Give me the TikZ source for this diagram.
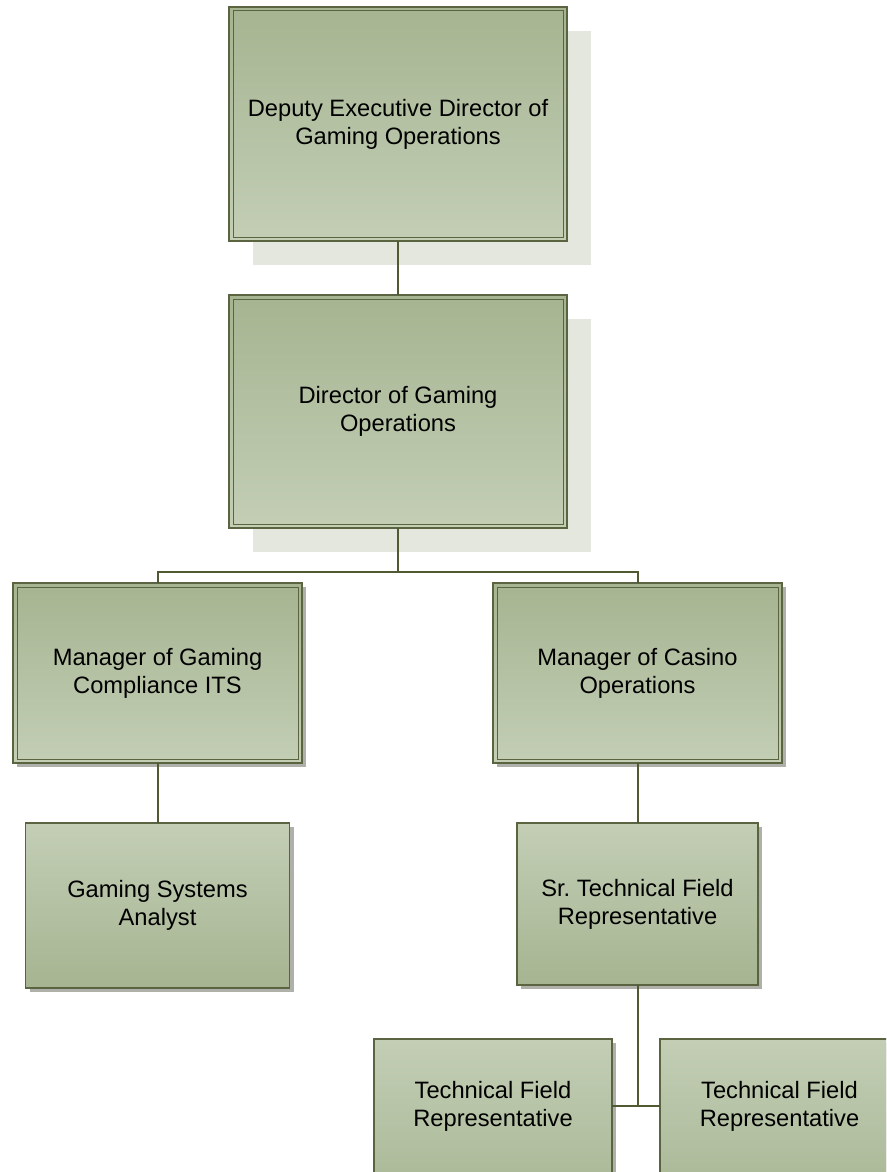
\documentclass[tikz,border=0pt]{standalone}
\usepackage{fontspec}
\setmainfont{Liberation Sans}
\frenchspacing
\usetikzlibrary{shadows}
\definecolor{gdark}{HTML}{A6B491}
\definecolor{glight}{HTML}{C3CEB5}
\definecolor{bordc}{HTML}{5A6440}
\definecolor{connc}{HTML}{4F5A32}
\definecolor{bigshadow}{HTML}{E4E7DE}
\definecolor{smallshadow}{HTML}{9A9C94}
\tikzset{
  boxbase/.style={draw=bordc, line width=1.3pt, inner sep=0pt, outer sep=0pt,
    align=center, font=\fontsize{23.7}{28}\selectfont, text=black},
  dblbox/.style={boxbase, top color=gdark, bottom color=glight,
    path picture={\draw[bordc, line width=1pt]
      ([shift={(4pt,4pt)}]path picture bounding box.south west) rectangle
      ([shift={(-4pt,-4pt)}]path picture bounding box.north east);}},
  bigbox/.style={dblbox, drop shadow={shadow xshift=24pt, shadow yshift=-24pt, fill=bigshadow, opacity=1}},
  midbox/.style={dblbox, drop shadow={shadow xshift=4pt, shadow yshift=-4pt, fill=smallshadow, opacity=0.8}},
  lowbox/.style={boxbase, top color=glight, bottom color=gdark,
    drop shadow={shadow xshift=4pt, shadow yshift=-4pt, fill=smallshadow, opacity=0.8}},
  conn/.style={draw=connc, line width=2pt},
}
\begin{document}
\begin{tikzpicture}[x=1pt, y=-1pt]
\useasboundingbox (0,0) rectangle (886,1172);
\clip (0,0) rectangle (886,1172);
\node[bigbox, minimum width=338pt, minimum height=234pt] (dep) at (398,124) {Deputy Executive Director of\\Gaming Operations};
\node[bigbox, minimum width=338pt, minimum height=233pt] (dir) at (398,411.5) {Director of Gaming\\Operations};
\node[midbox, minimum width=289pt, minimum height=180pt] (mgc) at (157.5,673) {Manager of Gaming\\Compliance ITS};
\node[midbox, minimum width=289pt, minimum height=180pt] (mco) at (637.5,673) {Manager of Casino\\Operations};
\node[lowbox, minimum width=264pt, minimum height=165pt] (gsa) at (157.5,905.5) {Gaming Systems\\Analyst};
\node[lowbox, minimum width=241pt, minimum height=162pt] (sr) at (637.5,904) {Sr. Technical Field\\Representative};
\node[lowbox, minimum width=238pt, minimum height=180pt, anchor=north west] (tf1) at (374,1039) {};
\node[align=center, font=\fontsize{23.7}{28}\selectfont, inner sep=0pt] (tf1t) at (493,1106) {Technical Field\\Representative};
\node[lowbox, minimum width=280pt, minimum height=180pt, anchor=north west] (tf2) at (660,1039) {};
\node[align=center, font=\fontsize{23.7}{28}\selectfont, inner sep=0pt] (tf2t) at (779.5,1106) {Technical Field\\Representative};
\coordinate (bar) at (398,572);
\coordinate (j) at (637.5,1106);
\draw[conn] (dep.south) -- (dir.north);
\draw[conn] (dir.south) -- (bar) -| (mgc.north);
\draw[conn] (bar) -| (mco.north);
\draw[conn] (mgc.south) -- (gsa.north);
\draw[conn] (mco.south) -- (sr.north);
\draw[conn] (sr.south) -- (j);
\draw[conn] (tf1.east |- j) -- (tf2.west |- j);
\end{tikzpicture}
\end{document}
